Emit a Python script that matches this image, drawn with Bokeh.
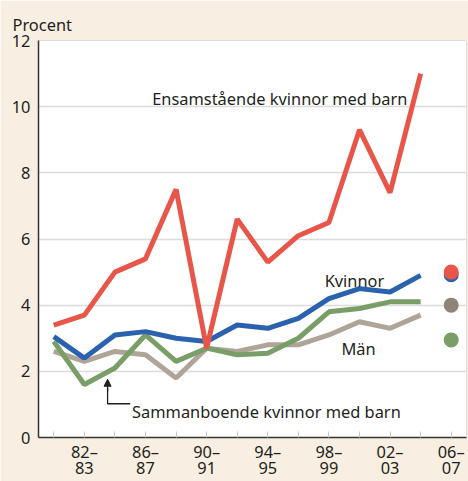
from bokeh.plotting import figure
from bokeh.models import Range1d, FixedTicker, Label, Arrow, NormalHead
from bokeh.embed import file_html
from bokeh.resources import INLINE

# ---- data ----
periods = ["80–81", "82–83", "84–85", "86–87", "88–89", "90–91", "92–93",
           "94–95", "96–97", "98–99", "00–01", "02–03", "04–05"]
x = list(range(len(periods)))
ensamstaende = [3.4, 3.7, 5.0, 5.4, 7.5, 2.7, 6.6, 5.3, 6.1, 6.5, 9.3, 7.4, 11.0]
kvinnor      = [3.05, 2.4, 3.1, 3.2, 3.0, 2.9, 3.4, 3.3, 3.6, 4.2, 4.5, 4.4, 4.9]
man          = [2.6, 2.3, 2.6, 2.5, 1.8, 2.7, 2.6, 2.8, 2.8, 3.1, 3.5, 3.3, 3.7]
sammanboende = [2.9, 1.6, 2.1, 3.1, 2.3, 2.7, 2.5, 2.55, 3.0, 3.8, 3.9, 4.1, 4.1]

tick_positions = list(range(14))
tick_labels = {1: "82–\n83", 3: "86–\n87", 5: "90–\n91", 7: "94–\n95",
               9: "98–\n99", 11: "02–\n03", 13: "06–\n07"}
y_ticks = [0, 2, 4, 6, 8, 10, 12]

# legend dots at right edge
dot_x = [13, 13, 13, 13]
dot_y = [4.92, 5.0, 4.0, 2.95]

RED = "#e8564a"
BLUE = "#2b62ad"
GRAY = "#aea598"
GRAY_DOT = "#8e8577"
GREEN = "#7a9e68"
BG = "#f8efe2"
TXT = "#231f20"
FONT = "Noto Sans"
FS = "16.4px"

p = figure(width=468, height=481, output_backend="svg", toolbar_location=None,
           x_range=Range1d(-0.5, 13.5), y_range=Range1d(0, 12))
p.min_border_left = 38
p.min_border_right = 2
p.min_border_top = 40
p.min_border_bottom = 43
p.border_fill_color = BG
p.background_fill_color = "white"
p.outline_line_color = "#dedede"

p.title.text = "Procent"
p.title.text_font = FONT
p.title.text_font_size = FS
p.title.text_font_style = "normal"
p.title.text_color = TXT
p.title.align = "left"
p.title.offset = -26
p.title.standoff = 10

# axes
p.xaxis.ticker = FixedTicker(ticks=tick_positions)
p.xaxis.major_label_overrides = {t: tick_labels.get(t, "") for t in tick_positions}
p.xaxis.major_tick_in = 6
p.xaxis.major_tick_out = 0
p.xaxis.major_tick_line_color = "#c8c8c8"
p.xaxis.minor_tick_line_color = None
p.xaxis.axis_line_color = "#333333"
p.xaxis.axis_line_width = 1.5
p.xaxis.major_label_text_font = FONT
p.xaxis.major_label_text_font_size = FS
p.xaxis.major_label_text_color = TXT
p.xaxis.major_label_standoff = 2
p.xaxis.major_label_text_line_height = 0.7

p.yaxis.ticker = FixedTicker(ticks=y_ticks)
p.yaxis.major_tick_in = 0
p.yaxis.major_tick_out = 0
p.yaxis.minor_tick_line_color = None
p.yaxis.axis_line_color = "#333333"
p.yaxis.axis_line_width = 1.5
p.yaxis.major_label_text_font = FONT
p.yaxis.major_label_text_font_size = FS
p.yaxis.major_label_text_color = TXT
p.yaxis.major_label_standoff = 8

p.xgrid.grid_line_color = None
p.ygrid.ticker = FixedTicker(ticks=y_ticks)
p.ygrid.grid_line_color = "#dcdcdc"
p.ygrid.grid_line_width = 1.5

# lines
p.line(x, man, line_color=GRAY, line_width=5)
p.line(x, sammanboende, line_color=GREEN, line_width=5)
p.line(x, kvinnor, line_color=BLUE, line_width=5)
p.line(x, ensamstaende, line_color=RED, line_width=5)

# legend dots
p.scatter(dot_x, dot_y, size=15, line_color=None,
          fill_color=[BLUE, RED, GRAY_DOT, GREEN])

# labels
def lab(xv, yv, text):
    p.add_layout(Label(x=xv, y=yv, text=text, text_font=FONT,
                       text_font_size=FS, text_color=TXT,
                       text_baseline="alphabetic", text_align="left"))

lab(3.22, 10.25, "Ensamstående kvinnor med barn")
lab(8.86, 4.76, "Kvinnor")
lab(9.41, 2.68, "Män")
lab(2.56, 0.79, "Sammanboende kvinnor med barn")

# arrow for Sammanboende
arrow_x = [2.5, 1.76, 1.76]
arrow_y = [1.02, 1.02, 1.5]
p.line(arrow_x, arrow_y, line_color=TXT, line_width=1.3)
p.add_layout(Arrow(x_start=1.76, y_start=1.4, x_end=1.76, y_end=1.76,
                   line_color=TXT, line_width=1.3,
                   end=NormalHead(size=7, fill_color=TXT, line_color=TXT)))

open("out.html", "w").write(file_html(p, INLINE))
